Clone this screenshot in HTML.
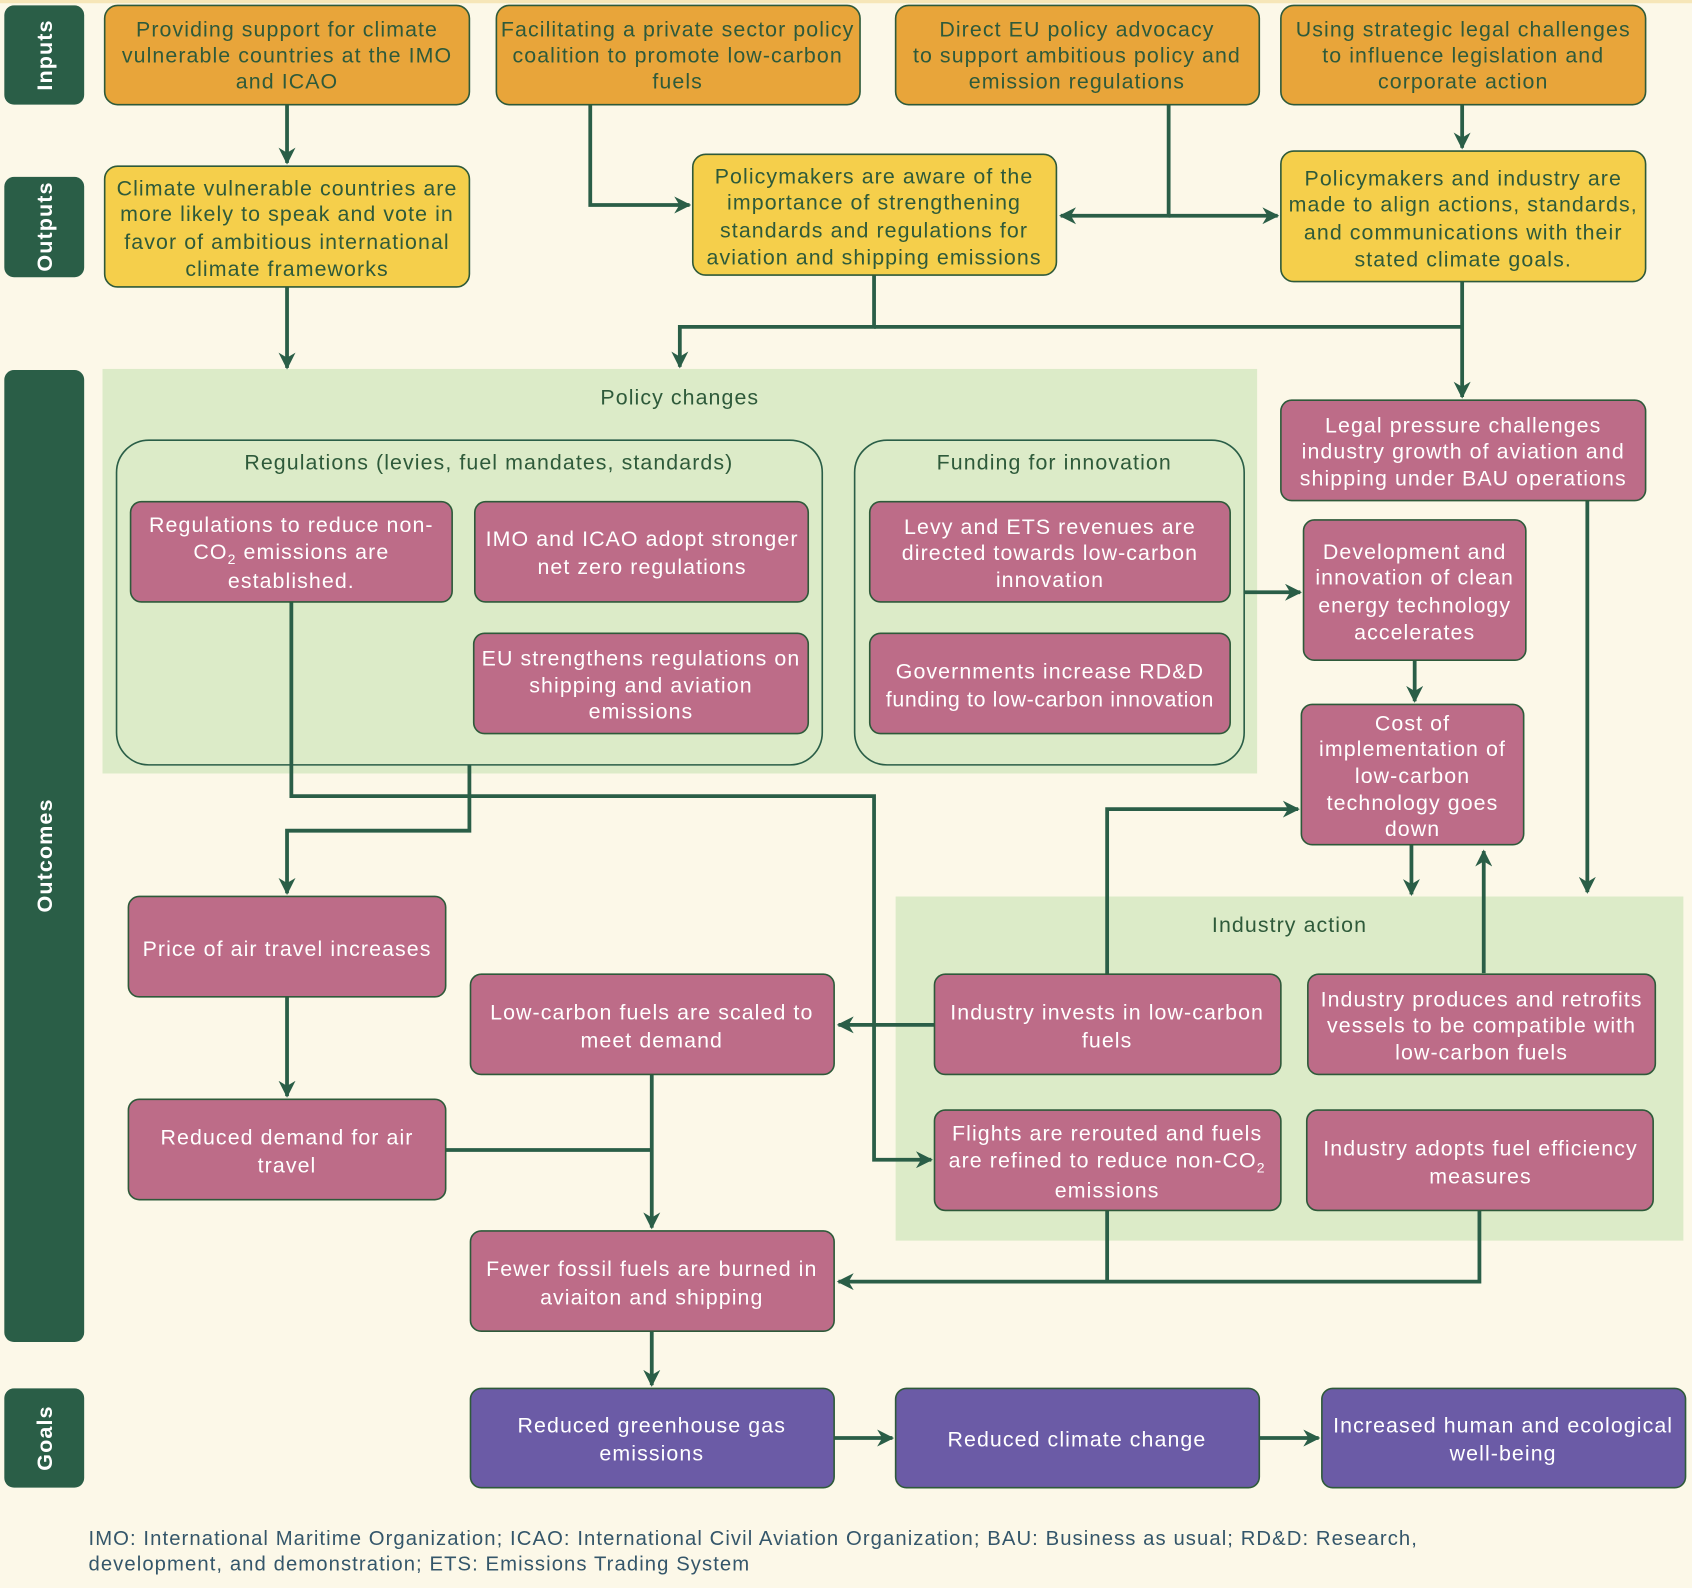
<!DOCTYPE html>
<html><head><meta charset="utf-8"><style>
html,body{margin:0;padding:0;background:#fcf8e8;}
svg{display:block}
text{font-family:"Liberation Sans",sans-serif;font-size:19.8px;text-anchor:middle;letter-spacing:1px}
.d{fill:#2e5a3a}.w{fill:#ffffff}
.lab{fill:#fff;font-size:20px;font-weight:bold}
.ln{stroke:#2a5e47;stroke-width:3.5;fill:none}
.or{fill:#e8a53a;stroke:#2e5a3a;stroke-width:1.5}
.ye{fill:#f5cf4b;stroke:#2e5a3a;stroke-width:1.5}
.pk{fill:#bd6c88;stroke:#2e5a3a;stroke-width:1.5}
.pu{fill:#6b5ba6;stroke:#2e5a3a;stroke-width:1.5}
.gl{fill:#2a5e47}
.grp{fill:none;stroke:#2a5e47;stroke-width:1.5}
</style></head><body>
<svg width="1692" height="1588" viewBox="0 0 1568 1472" preserveAspectRatio="none" xmlns="http://www.w3.org/2000/svg">
<defs><marker id="a" viewBox="0 0 10 10" refX="9" refY="5" markerWidth="4.5" markerHeight="4.5" orient="auto" markerUnits="strokeWidth"><path d="M0,0 L10,5 L0,10 L3,5 z" fill="#2a5e47"/></marker></defs>
<rect width="1568" height="1472" fill="#fcf8e8"/>
<rect width="1568" height="3" fill="#f6e6b8"/>
<rect class="gl" x="4" y="5" width="74" height="92" rx="9"/>
<text class="lab" transform="translate(48,51) rotate(-90)">Inputs</text>
<rect class="gl" x="4" y="164" width="74" height="93" rx="9"/>
<text class="lab" transform="translate(48,210) rotate(-90)">Outputs</text>
<rect class="gl" x="4" y="343" width="74" height="901" rx="9"/>
<text class="lab" transform="translate(48,793) rotate(-90)">Outcomes</text>
<rect class="gl" x="4" y="1287" width="74" height="92" rx="9"/>
<text class="lab" transform="translate(48,1333) rotate(-90)">Goals</text>
<rect x="95" y="342" width="1070" height="375" fill="#dcebc8"/>
<rect x="830" y="831" width="730" height="319" fill="#dcebc8"/>
<text class="d" x="630" y="375">Policy changes</text>
<text class="d" x="1195" y="864">Industry action</text>
<rect class="grp" x="108" y="408" width="654" height="301" rx="30"/>
<text class="d" x="453" y="435">Regulations (levies, fuel mandates, standards)</text>
<rect class="grp" x="792" y="408" width="361" height="301" rx="30"/>
<text class="d" x="977" y="435">Funding for innovation</text>
<g class="ln">
<path d="M266 97 V151" marker-end="url(#a)"/>
<path d="M547 97 V190 H639" marker-end="url(#a)"/>
<path d="M1083 97 V200 H983" marker-end="url(#a)"/>
<path d="M1083 200 H1184" marker-end="url(#a)"/>
<path d="M1355 97 V137" marker-end="url(#a)"/>
<path d="M266 266 V341" marker-end="url(#a)"/>
<path d="M810 255 V303 H630 V340" marker-end="url(#a)"/>
<path d="M810 303 H1355"/>
<path d="M1355 261 V368" marker-end="url(#a)"/>
<path d="M1153 549 H1205" marker-end="url(#a)"/>
<path d="M1311 612 V650" marker-end="url(#a)"/>
<path d="M1471 464 V827" marker-end="url(#a)"/>
<path d="M1308 783 V829" marker-end="url(#a)"/>
<path d="M1375 902 V789" marker-end="url(#a)"/>
<path d="M1026 903 V750 H1203" marker-end="url(#a)"/>
<path d="M866 950 H777" marker-end="url(#a)"/>
<path d="M270 558 V738 H810 V1075 H863" marker-end="url(#a)"/>
<path d="M435 709 V770 H266 V828" marker-end="url(#a)"/>
<path d="M266 924 V1016" marker-end="url(#a)"/>
<path d="M413 1066 H604"/>
<path d="M604 996 V1138" marker-end="url(#a)"/>
<path d="M1026 1122 V1188 H777" marker-end="url(#a)"/>
<path d="M1371 1122 V1188 H1026"/>
<path d="M604 1234 V1284" marker-end="url(#a)"/>
<path d="M773 1333 H827" marker-end="url(#a)"/>
<path d="M1167 1333 H1222" marker-end="url(#a)"/>
</g>
<rect class="or" x="97" y="5" width="338" height="92" rx="12"/>
<text class="d" x="266" y="34">Providing support for climate</text><text class="d" x="266" y="58">vulnerable countries at the IMO</text><text class="d" x="266" y="82">and ICAO</text>
<rect class="or" x="460" y="5" width="337" height="92" rx="12"/>
<text class="d" x="628" y="34">Facilitating a private sector policy</text><text class="d" x="628" y="58">coalition to promote low-carbon</text><text class="d" x="628" y="82">fuels</text>
<rect class="or" x="830" y="5" width="337" height="92" rx="12"/>
<text class="d" x="998" y="34">Direct EU policy advocacy</text><text class="d" x="998" y="58">to support ambitious policy and</text><text class="d" x="998" y="82">emission regulations</text>
<rect class="or" x="1187" y="5" width="338" height="92" rx="12"/>
<text class="d" x="1356" y="34">Using strategic legal challenges</text><text class="d" x="1356" y="58">to influence legislation and</text><text class="d" x="1356" y="82">corporate action</text>
<rect class="ye" x="97" y="154" width="338" height="112" rx="12"/>
<text class="d" x="266" y="181">Climate vulnerable countries are</text><text class="d" x="266" y="205">more likely to speak and vote in</text><text class="d" x="266" y="231">favor of ambitious international</text><text class="d" x="266" y="256">climate frameworks</text>
<rect class="ye" x="642" y="143" width="337" height="112" rx="12"/>
<text class="d" x="810" y="170">Policymakers are aware of the</text><text class="d" x="810" y="194">importance of strengthening</text><text class="d" x="810" y="220">standards and regulations for</text><text class="d" x="810" y="245">aviation and shipping emissions</text>
<rect class="ye" x="1187" y="140" width="338" height="121" rx="12"/>
<text class="d" x="1356" y="172">Policymakers and industry are</text><text class="d" x="1356" y="196">made to align actions, standards,</text><text class="d" x="1356" y="222">and communications with their</text><text class="d" x="1356" y="247">stated climate goals.</text>
<g>
<rect class="pk" x="121" y="465" width="298" height="93" rx="10"/>
<text class="w" x="270" y="493">Regulations to reduce non-</text><text class="w" x="270" y="518">CO<tspan font-size="13" dy="5">2</tspan><tspan dy="-5"> emissions are</tspan></text><text class="w" x="270" y="545">established.</text>
<rect class="pk" x="440" y="465" width="309" height="93" rx="10"/>
<text class="w" x="595" y="506">IMO and ICAO adopt stronger</text><text class="w" x="595" y="532">net zero regulations</text>
<rect class="pk" x="439" y="587" width="310" height="93" rx="10"/>
<text class="w" x="594" y="617">EU strengthens regulations on</text><text class="w" x="594" y="642">shipping and aviation</text><text class="w" x="594" y="666">emissions</text>
<rect class="pk" x="806" y="465" width="334" height="93" rx="10"/>
<text class="w" x="973" y="495">Levy and ETS revenues are</text><text class="w" x="973" y="519">directed towards low-carbon</text><text class="w" x="973" y="544">innovation</text>
<rect class="pk" x="806" y="587" width="334" height="93" rx="10"/>
<text class="w" x="973" y="629">Governments increase RD&amp;D</text><text class="w" x="973" y="655" style="letter-spacing:0.6px">funding to low-carbon innovation</text>
<rect class="pk" x="1187" y="371" width="338" height="93" rx="10"/>
<text class="w" x="1356" y="401">Legal pressure challenges</text><text class="w" x="1356" y="425">industry growth of aviation and</text><text class="w" x="1356" y="450">shipping under BAU operations</text>
<rect class="pk" x="1208" y="482" width="206" height="130" rx="10"/>
<text class="w" x="1311" y="518">Development and</text><text class="w" x="1311" y="542">innovation of clean</text><text class="w" x="1311" y="568">energy technology</text><text class="w" x="1311" y="593">accelerates</text>
<rect class="pk" x="1206" y="653" width="206" height="130" rx="10"/>
<text class="w" x="1309" y="677">Cost of</text><text class="w" x="1309" y="701">implementation of</text><text class="w" x="1309" y="726">low-carbon</text><text class="w" x="1309" y="751">technology goes</text><text class="w" x="1309" y="775">down</text>
<rect class="pk" x="119" y="831" width="294" height="93" rx="10"/>
<text class="w" x="266" y="886">Price of air travel increases</text>
<rect class="pk" x="436" y="903" width="337" height="93" rx="10"/>
<text class="w" x="604" y="945">Low-carbon fuels are scaled to</text><text class="w" x="604" y="971">meet demand</text>
<rect class="pk" x="866" y="903" width="321" height="93" rx="10"/>
<text class="w" x="1026" y="945">Industry invests in low-carbon</text><text class="w" x="1026" y="971">fuels</text>
<rect class="pk" x="1212" y="903" width="322" height="93" rx="10"/>
<text class="w" x="1373" y="933">Industry produces and retrofits</text><text class="w" x="1373" y="957">vessels to be compatible with</text><text class="w" x="1373" y="982">low-carbon fuels</text>
<rect class="pk" x="119" y="1019" width="294" height="93" rx="10"/>
<text class="w" x="266" y="1061">Reduced demand for air</text><text class="w" x="266" y="1087">travel</text>
<rect class="pk" x="866" y="1029" width="321" height="93" rx="10"/>
<text class="w" x="1026" y="1057">Flights are rerouted and fuels</text><text class="w" x="1026" y="1082">are refined to reduce non-CO<tspan font-size="13" dy="5">2</tspan></text><text class="w" x="1026" y="1110">emissions</text>
<rect class="pk" x="1211" y="1029" width="321" height="93" rx="10"/>
<text class="w" x="1372" y="1071">Industry adopts fuel efficiency</text><text class="w" x="1372" y="1097">measures</text>
<rect class="pk" x="436" y="1141" width="337" height="93" rx="10"/>
<text class="w" x="604" y="1183">Fewer fossil fuels are burned in</text><text class="w" x="604" y="1209">aviaiton and shipping</text>
</g>
<rect class="pu" x="436" y="1287" width="337" height="92" rx="10"/>
<text class="w" x="604" y="1328">Reduced greenhouse gas</text><text class="w" x="604" y="1354">emissions</text>
<rect class="pu" x="830" y="1287" width="337" height="92" rx="10"/>
<text class="w" x="998" y="1341">Reduced climate change</text>
<rect class="pu" x="1225" y="1287" width="337" height="92" rx="10"/>
<text class="w" x="1393" y="1328">Increased human and ecological</text><text class="w" x="1393" y="1354">well-being</text>
<text x="82" y="1432" style="text-anchor:start;fill:#34566a;font-size:18.8px">IMO: International Maritime Organization; ICAO: International Civil Aviation Organization; BAU: Business as usual; RD&amp;D: Research,</text>
<text x="82" y="1456" style="text-anchor:start;fill:#34566a;font-size:18.8px">development, and demonstration; ETS: Emissions Trading System</text>
</svg>
</body></html>
